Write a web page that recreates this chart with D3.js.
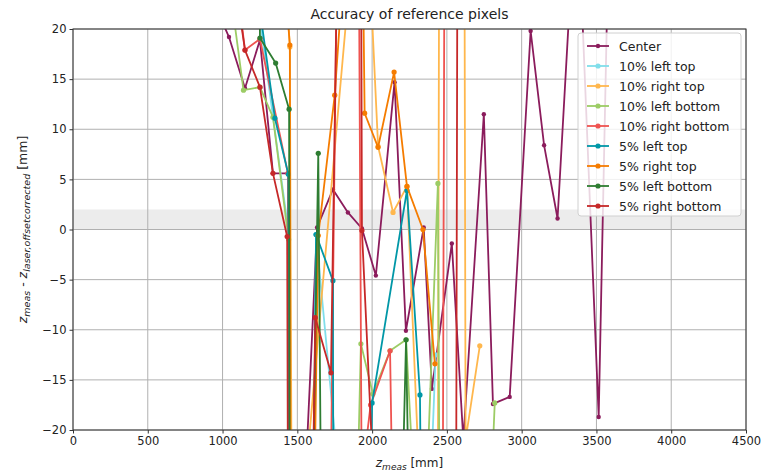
<!DOCTYPE html>
<html>
<head>
<meta charset="utf-8">
<script src="https://cdn.jsdelivr.net/npm/d3@7"></script>
<style>
  body { margin: 0; background: #fff; }
  text { font-family: "DejaVu Sans", sans-serif; fill: #222; }
</style>
</head>
<body>
<div id="chart"></div>
<script>
// series names, in legend order
var seriesNames = ["Center", "10% left top", "10% right top", "10% left bottom", "10% right bottom",
                   "5% left top", "5% right top", "5% left bottom", "5% right bottom"];
var seriesColors = ["#8b1c5c", "#80deea", "#ffb74d", "#9ccc65", "#ef5350",
                    "#0097a7", "#f57c00", "#2e7d32", "#c62828"];

// z_meas [mm] and deviation [mm] for every series
var centerX = [960, 1043, 1150, 1250, 1337, 1437, 1445, 1632, 1738, 1838, 1932, 2025, 2150, 2226, 2345, 2400, 2533, 2610, 2747, 2808, 2920, 3060, 3150, 3240, 3368, 3515, 3596];
var centerY = [22, 19.2, 14.1, 18.9, 5.6, 5.6, -60, 0.2, 4.0, 1.7, 0.1, -4.6, 14.7, -10.1, 0.2, -15.9, -1.4, -21, 11.5, -17.4, -16.7, 19.8, 8.4, 1.1, 35, -18.7, 40];

var leftTop10X = [1240, 1440, 1445, 1600, 1625, 1780, 2380, 2425];
var leftTop10Y = [22, -0.1, -40, -40, -0.5, -25, -30, -12.5];

var rightTop10X = [1410, 1450, 1465, 1940, 2040, 2140, 2233, 2330, 2440, 2450, 2615, 2625, 2720];
var rightTop10Y = [28, 18.2, -40, 40, 8.3, 1.7, 4.3, -30, -25, 40, 45, -21, -11.6];

var leftBottom10X = [1050, 1140, 1250, 1337, 1442, 1447, 1880, 1925, 2005, 2120, 2227, 2330, 2440, 2455, 2790, 2820];
var leftBottom10Y = [24, 13.9, 14.2, 11.2, -1, -40, -40, -11.4, -16.4, -12.1, -11.0, -40, 4.6, -40, -28, -17.3];

var rightBottom10X = [1100, 1150, 1250, 1437, 1442, 1720, 1790, 1900, 1930, 1990, 2120, 2150, 2470, 2490];
var rightBottom10Y = [24, 17.9, 19.0, 5.6, -40, -30, 60, 60, -25, -17.5, -12.1, -40, -40, 60];

var leftTop5X = [1230, 1350, 1440, 1445, 1600, 1625, 1738, 1742, 1985, 2000, 2233, 2320, 2335];
var leftTop5Y = [24, 11.1, 5.5, -40, -40, -0.5, -5.1, -40, -35, -17.3, 3.9, -16.5, -40];

var rightTop5X = [1400, 1450, 1455, 1600, 1640, 1750, 1920, 1950, 2040, 2147, 2233, 2340, 2420];
var rightTop5Y = [28, 18.4, -40, -40, -0.6, 13.4, 50, 11.6, 8.2, 15.7, 4.3, 0, -13.4];

var leftBottom5X = [1248, 1250, 1355, 1445, 1450, 1590, 1640, 1665, 1720, 1730, 2180, 2227, 2260];
var leftBottom5Y = [25, 19.1, 16.6, 12.0, -40, -40, 7.6, -40, -40, -40, -40, -11.0, -40];

var rightBottom5X = [1100, 1150, 1250, 1337, 1432, 1440, 1600, 1620, 1725, 1800, 1920, 1932, 2000, 2560, 2575];
var rightBottom5Y = [23, 17.9, 14.2, 5.6, -0.7, -40, -30, -8.8, -14.3, 60, 60, -0.1, -22, -40, 60];

var xTicks = [0, 500, 1000, 1500, 2000, 2500, 3000, 3500, 4000, 4500];
var yTicks = [-20, -15, -10, -5, 0, 5, 10, 15, 20];

var allX = [centerX, leftTop10X, rightTop10X, leftBottom10X, rightBottom10X, leftTop5X, rightTop5X, leftBottom5X, rightBottom5X];
var allY = [centerY, leftTop10Y, rightTop10Y, leftBottom10Y, rightBottom10Y, leftTop5Y, rightTop5Y, leftBottom5Y, rightBottom5Y];

var series = seriesNames.map(function(name, i) {
  return {
    name: name,
    color: seriesColors[i],
    values: allX[i].map(function(x, j) { return {x: x, y: allY[i][j]}; })
  };
});

// plot box
var W = 761, H = 473;
var plot = {left: 73, right: 746, top: 29, bottom: 430};

var svg = d3.select("#chart").append("svg")
  .attr("width", W)
  .attr("height", H);

var x = d3.scaleLinear().domain([0, 4500]).range([plot.left, plot.right]);
var y = d3.scaleLinear().domain([-20, 20]).range([plot.bottom, plot.top]);

svg.append("clipPath").attr("id", "clip")
  .append("rect")
  .attr("x", plot.left).attr("y", plot.top)
  .attr("width", plot.right - plot.left)
  .attr("height", plot.bottom - plot.top);

// tolerance band 0..2 mm
svg.append("rect")
  .attr("x", plot.left)
  .attr("y", y(2))
  .attr("width", plot.right - plot.left)
  .attr("height", y(0) - y(2))
  .attr("fill", "#e6e6e6")
  .attr("opacity", 0.75);

// grid
svg.append("g").selectAll("line").data(xTicks).join("line")
  .attr("x1", d => x(d)).attr("x2", d => x(d))
  .attr("y1", plot.top).attr("y2", plot.bottom)
  .attr("stroke", "#b0b0b0").attr("stroke-width", 1);
svg.append("g").selectAll("line").data(yTicks).join("line")
  .attr("x1", plot.left).attr("x2", plot.right)
  .attr("y1", d => y(d)).attr("y2", d => y(d))
  .attr("stroke", "#b0b0b0").attr("stroke-width", 1);

// series lines and markers
var line = d3.line().x(d => x(d.x)).y(d => y(d.y));
var lines = svg.append("g").attr("clip-path", "url(#clip)");

series.forEach(function(s, i) {
  lines.append("path")
    .datum(s.values)
    .attr("d", line)
    .attr("fill", "none")
    .attr("stroke", s.color)
    .attr("stroke-width", 1.8)
    .attr("stroke-linejoin", "round");
  lines.append("g").selectAll("circle").data(s.values).join("circle")
    .attr("cx", d => x(d.x))
    .attr("cy", d => y(d.y))
    .attr("r", i === 0 ? 2.2 : 2.6)
    .attr("fill", s.color);
});

// axes
var xAxis = svg.append("g")
  .attr("transform", "translate(0," + plot.bottom + ")")
  .call(d3.axisBottom(x).tickValues(xTicks).tickSize(3.5).tickPadding(3).tickFormat(d3.format("d")));
var yAxis = svg.append("g")
  .attr("transform", "translate(" + plot.left + ",0)")
  .call(d3.axisLeft(y).tickValues(yTicks).tickSize(3.5).tickPadding(3)
    .tickFormat(d => d < 0 ? "\u2212" + Math.abs(d) : d));

[xAxis, yAxis].forEach(function(a) {
  a.select(".domain").remove();
  a.selectAll("text").attr("font-size", 11.5).attr("fill", "#222")
    .attr("font-family", "DejaVu Sans, sans-serif");
  a.selectAll("line").attr("stroke", "#333");
});

// frame
svg.append("rect")
  .attr("x", plot.left).attr("y", plot.top)
  .attr("width", plot.right - plot.left)
  .attr("height", plot.bottom - plot.top)
  .attr("fill", "none")
  .attr("stroke", "#333")
  .attr("stroke-width", 1);

// title
svg.append("text")
  .attr("x", (plot.left + plot.right) / 2)
  .attr("y", 19)
  .attr("text-anchor", "middle")
  .attr("font-size", 14)
  .text("Accuracy of reference pixels");

// x label
var xl = svg.append("text")
  .attr("x", (plot.left + plot.right) / 2)
  .attr("y", 467)
  .attr("text-anchor", "middle")
  .attr("font-size", 12);
xl.append("tspan").attr("font-style", "italic").text("z");
xl.append("tspan").attr("font-style", "italic").attr("font-size", 9).attr("dy", 3).text("meas");
xl.append("tspan").attr("dy", -3).text(" [mm]");

// y label
var yl = svg.append("text")
  .attr("transform", "translate(27," + y(0) + ") rotate(-90)")
  .attr("text-anchor", "middle")
  .attr("font-size", 12.5);
yl.append("tspan").attr("font-style", "italic").text("z");
yl.append("tspan").attr("font-style", "italic").attr("font-size", 9.5).attr("dy", 3).text("meas");
yl.append("tspan").attr("dy", -3).text(" - ");
yl.append("tspan").attr("font-style", "italic").text("z");
yl.append("tspan").attr("font-style", "italic").attr("font-size", 9.5).attr("dy", 3).text("laser,offsetcorrected");
yl.append("tspan").attr("dy", -3).text(" [mm]");

// legend
var legend = svg.append("g");
legend.append("rect")
  .attr("x", 578).attr("y", 33)
  .attr("width", 163).attr("height", 183)
  .attr("rx", 3)
  .attr("fill", "#fff").attr("fill-opacity", 0.82)
  .attr("stroke", "#d0d0d0");

var items = legend.selectAll("g.item").data(series).join("g")
  .attr("class", "item")
  .attr("transform", (d, i) => "translate(587," + (46 + i * 20) + ")");
items.append("line")
  .attr("x1", 0).attr("x2", 22)
  .attr("stroke", d => d.color).attr("stroke-width", 1.8);
items.append("circle")
  .attr("cx", 11).attr("r", (d, i) => i === 0 ? 2.2 : 2.6)
  .attr("fill", d => d.color);
items.append("text")
  .attr("x", 32).attr("y", 4.5)
  .attr("font-size", 12.5)
  .text(d => d.name);
</script>
</body>
</html>
